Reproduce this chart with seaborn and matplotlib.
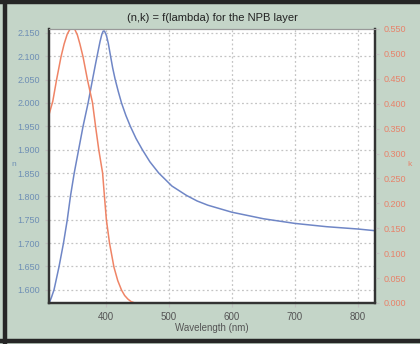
import matplotlib

matplotlib.use("Agg")

import matplotlib.pyplot as plt
import numpy as np
import pandas as pd
import seaborn as sns
from matplotlib.lines import Line2D

# refractive index n (left axis)
N_WAVELENGTH = [310, 314, 318, 326, 333, 339, 344, 350, 357, 364, 372, 379, 384, 388, 391, 394, 396,
                398, 401, 404, 407, 411, 415, 420, 425, 432, 439, 448, 458, 470, 484, 505, 528, 545, 562,
                600, 650, 700, 750, 800, 830]
N_VALUES = [1.570, 1.584, 1.600, 1.650, 1.700, 1.750, 1.800, 1.850, 1.900, 1.950, 2.000, 2.050, 2.085,
            2.112, 2.132, 2.148, 2.154, 2.154, 2.145, 2.128, 2.105, 2.075, 2.050, 2.024, 2.000, 1.973,
            1.950, 1.924, 1.900, 1.874, 1.850, 1.822, 1.802, 1.790, 1.781,
            1.766, 1.752, 1.742, 1.735, 1.730, 1.726]

# extinction coefficient k (right axis)
K_WAVELENGTH = [310, 316, 322, 329, 334, 339, 343, 347, 351, 355, 359, 364, 371, 379, 384, 389, 395,
                398, 401, 406, 413, 419, 425, 430, 435, 440, 446, 500, 600, 700, 830]
K_VALUES = [0.378, 0.405, 0.448, 0.494, 0.520, 0.540, 0.549, 0.552, 0.549, 0.538, 0.520, 0.494, 0.448,
            0.402, 0.353, 0.307, 0.261, 0.213, 0.167, 0.120, 0.072, 0.045, 0.026, 0.015, 0.008, 0.003,
            0.000, 0.000, 0.000, 0.000, 0.000]

N_TICKS = [1.600, 1.650, 1.700, 1.750, 1.800, 1.850, 1.900, 1.950, 2.000, 2.050, 2.100, 2.150]
K_TICKS = [0.000, 0.050, 0.100, 0.150, 0.200, 0.250, 0.300, 0.350, 0.400, 0.450, 0.500, 0.550]
X_TICKS = [400, 500, 600, 700, 800]

BG = "#c4d5c8"
BLUE = "#6f86c6"
ORANGE = "#ef8466"

n_df = pd.DataFrame({"wavelength": N_WAVELENGTH, "n": N_VALUES})
k_df = pd.DataFrame({"wavelength": K_WAVELENGTH, "k": K_VALUES})

plt.rcParams["font.family"] = ["Liberation Sans", "DejaVu Sans"]

fig = plt.figure(figsize=(4.2, 3.44), dpi=100, facecolor=BG)
ax = fig.add_axes([49 / 420, 1 - 303 / 344, 326 / 420, 274 / 344])
ax.set_facecolor("white")

# dark frame on the left, top and bottom of the screenshot
frame = dict(transform=fig.transFigure, color="#262626", linewidth=3.2, solid_capstyle="butt")
fig.lines.append(Line2D([5 / 420, 5 / 420], [0, 1], **frame))
fig.lines.append(Line2D([0, 1], [1 - 1.5 / 344, 1 - 1.5 / 344], **frame))
fig.lines.append(Line2D([0, 1], [1 - 341 / 344, 1 - 341 / 344], **frame))

sns.lineplot(data=n_df, x="wavelength", y="n", ax=ax, color=BLUE, linewidth=1.1)
ax.set_xlim(310, 827)
ax.set_ylim(1.5715, 2.1585)
ax.set_yticks(N_TICKS)
ax.set_yticklabels([f"{v:.3f}" for v in N_TICKS])
ax.set_xticks(X_TICKS)
ax.grid(True, color="#c4c4c4", linestyle=(0, (1.5, 2)), linewidth=0.9)
ax.set_axisbelow(True)
ax.tick_params(axis="y", colors="#c0c0c0", labelcolor="#6e8fb5", labelsize=6.5, length=3, width=0.8)
ax.tick_params(axis="x", colors="#c0c0c0", labelcolor="#555555", labelsize=7, length=3, width=0.8)
ax.set_xlabel("Wavelength (nm)", fontsize=7, color="#555555", labelpad=1)
ax.set_ylabel("")
fig.text(14 / 420, 1 - 165 / 344, "n", fontsize=6, color="#6e8fb5", ha="center", va="center")

ax2 = ax.twinx()
sns.lineplot(data=k_df, x="wavelength", y="k", ax=ax2, color=ORANGE, linewidth=1.1)
ax2.set_ylim(0, 0.55)
ax2.set_yticks(K_TICKS)
ax2.set_yticklabels([f"{v:.3f}" for v in K_TICKS])
ax2.tick_params(axis="y", colors="#c0c0c0", labelcolor="#e8826a", labelsize=6.5, length=3, width=0.8)
ax2.set_ylabel("")
fig.text(409 / 420, 1 - 165 / 344, "k", fontsize=6, color="#e8826a", ha="center", va="center")

for a in (ax, ax2):
    for side in ("left", "bottom", "right"):
        a.spines[side].set_color("#333333")
        a.spines[side].set_linewidth(1.6)
    a.spines["top"].set_color("#999999")
    a.spines["top"].set_linewidth(0.8)

fig.text(212 / 420, 1 - 18 / 344, "(n,k) = f(lambda) for the NPB layer", fontsize=8,
         color="#222222", ha="center", va="center")

fig.savefig("out.png", dpi=100, facecolor=BG)
